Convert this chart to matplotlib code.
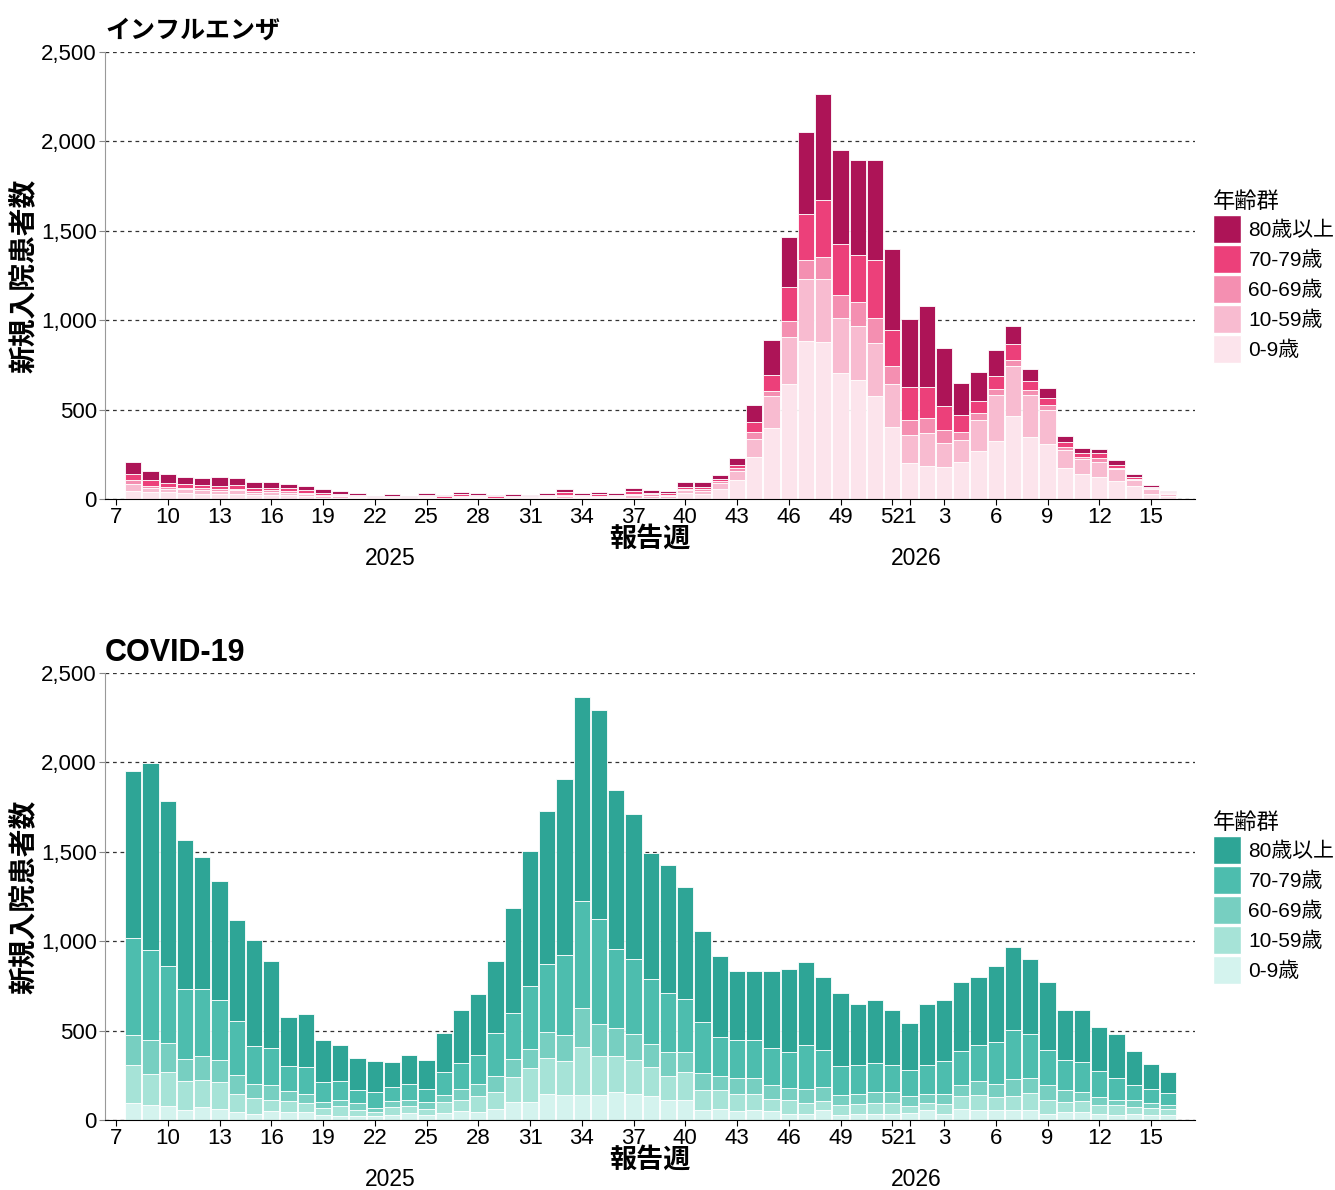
import numpy as np
import matplotlib.pyplot as plt
from matplotlib.patches import Patch
from matplotlib.ticker import FuncFormatter
import matplotlib.transforms as mtransforms

plt.rcParams['font.family'] = ['Liberation Sans', 'Noto Sans CJK JP', 'DejaVu Sans']

# report weeks: 2025-W8 .. 2025-W52, 2026-W1 .. 2026-W16
weeks_2025 = list(range(8, 53))
weeks_2026 = list(range(1, 17))
tick_weeks = [(2025, w) for w in range(7, 53, 3)] + [(2026, 1), (2026, 3), (2026, 6),
                                                     (2026, 9), (2026, 12), (2026, 15)]
age_groups = ['0-9歳', '10-59歳', '60-69歳', '70-79歳', '80歳以上']

# インフルエンザ (per age group, same week order)
flu_0_9 = [47, 38, 38, 34, 30, 26, 28, 24, 22, 20, 14, 8, 6, 4, 2, 3, 1, 3, 2, 4, 3, 2, 3, 2, 4,
           6, 4, 4, 4, 8, 6, 6, 35, 28, 56, 106, 237, 396, 644, 884, 877, 707, 666, 578, 403,
           200, 185, 181, 207, 267, 323, 465, 345, 308, 175, 142, 121, 99, 73, 30, 17]
flu_10_59 = [35, 22, 18, 20, 22, 18, 20, 12, 16, 14, 12, 8, 8, 6, 3, 4, 2, 6, 3, 7, 6, 3, 4, 4, 6,
             10, 6, 7, 6, 14, 12, 10, 15, 18, 35, 53, 101, 181, 263, 346, 355, 303, 304, 292, 239,
             155, 183, 131, 125, 175, 259, 281, 237, 188, 101, 82, 88, 69, 31, 24, 11]
flu_60_69 = [22, 14, 12, 10, 10, 10, 10, 8, 10, 10, 8, 6, 6, 4, 3, 3, 2, 5, 3, 6, 5, 3, 4, 3, 5,
             8, 4, 5, 5, 8, 7, 6, 7, 8, 8, 16, 37, 29, 91, 108, 119, 132, 133, 140, 99,
             89, 87, 71, 43, 38, 34, 32, 26, 30, 17, 13, 19, 7, 6, 6, 4]
flu_70_79 = [35, 30, 24, 20, 17, 20, 18, 17, 15, 16, 14, 12, 10, 8, 5, 6, 4, 8, 6, 10, 8, 6, 7, 6, 9,
             14, 8, 9, 8, 14, 11, 10, 8, 12, 11, 15, 54, 90, 185, 256, 323, 284, 263, 324, 203,
             183, 174, 136, 97, 70, 69, 88, 53, 39, 24, 21, 28, 13, 13, 9, 5]
flu_80 = [70, 53, 46, 41, 40, 51, 40, 32, 30, 26, 23, 20, 17, 12, 6, 10, 6, 10, 7, 12, 10, 7, 8, 7, 11,
          16, 10, 12, 9, 18, 14, 13, 28, 27, 26, 41, 97, 192, 282, 460, 589, 524, 532, 562, 456,
          381, 451, 324, 174, 159, 147, 104, 65, 56, 34, 26, 26, 28, 19, 11, 8]

# COVID-19
cov_0_9 = [93, 86, 77, 58, 71, 63, 43, 35, 49, 43, 47, 28, 24, 21, 21, 30, 37, 26, 37, 49, 47, 63,
           103, 99, 146, 138, 142, 142, 157, 146, 132, 114, 114, 56, 62, 52, 58, 49, 35, 35, 54,
           30, 35, 35, 35, 39, 54, 35, 62, 58, 54, 56, 56, 34, 43, 43, 34, 30, 34, 30, 30]
cov_10_59 = [213, 173, 192, 162, 155, 148, 104, 90, 65, 63, 48, 41, 53, 37, 26, 43, 40, 37, 62, 61,
             85, 96, 138, 190, 199, 194, 269, 214, 199, 188, 163, 134, 157, 114, 104, 95, 89, 70,
             75, 62, 54, 56, 56, 60, 58, 41, 41, 55, 74, 84, 75, 76, 93, 76, 56, 65, 48, 52, 37, 35, 33]
cov_60_69 = [168, 191, 162, 121, 132, 127, 107, 78, 84, 56, 52, 32, 35, 39, 22, 31, 37, 36, 39, 64,
             68, 85, 102, 107, 148, 144, 214, 180, 161, 146, 129, 133, 108, 91, 78, 86, 86, 75,
             71, 75, 75, 54, 56, 60, 62, 54, 52, 56, 62, 76, 74, 99, 88, 88, 71, 51, 45, 30, 43, 30, 23]
cov_70_79 = [543, 503, 433, 390, 375, 336, 298, 209, 203, 142, 152, 112, 104, 71, 90, 81, 88, 76,
             133, 145, 164, 245, 256, 352, 378, 446, 599, 587, 437, 423, 365, 330, 300, 288, 221,
             217, 217, 211, 200, 246, 207, 164, 163, 166, 150, 146, 163, 186, 190, 200, 236, 271,
             244, 194, 168, 166, 149, 121, 84, 77, 67]
cov_80 = [937, 1042, 918, 838, 737, 662, 568, 596, 489, 273, 293, 235, 204, 181, 171, 138, 160, 161,
          216, 297, 343, 399, 588, 754, 859, 985, 1142, 1172, 893, 806, 706, 718, 622, 509, 451,
          384, 382, 427, 461, 466, 410, 405, 339, 353, 309, 263, 339, 338, 386, 384, 421, 465,
          420, 379, 278, 291, 245, 248, 188, 141, 116]

flu_colors = ['#fce4ec', '#f8bbd0', '#f48fb1', '#ec407a', '#ad1457']
cov_colors = ['#d4f3ee', '#a6e3d7', '#77cfc1', '#4dbdae', '#2ea596']

# x positions: index 0 = 2025-W7
all_weeks = [(2025, w) for w in range(7, 53)] + [(2026, w) for w in weeks_2026]
pos = {yw: i for i, yw in enumerate(all_weeks)}
x = np.array([pos[(2025, w)] for w in weeks_2025] + [pos[(2026, w)] for w in weeks_2026])


def draw_panel(ax, series, colors, title, title_size, title_pad):
    bottom = np.zeros(len(x))
    for vals, col in zip(series, colors):
        vals = np.array(vals, dtype=float)
        ax.bar(x, vals, bottom=bottom, width=0.94, color=col,
               edgecolor='white', linewidth=0.6)
        bottom += vals

    ax.set_xlim(-0.64, 62.55)
    ax.set_ylim(0, 2500)
    ax.set_yticks(range(0, 2501, 500))
    ax.yaxis.set_major_formatter(FuncFormatter(lambda v, p: f'{int(v):,}'))
    ax.set_xticks([pos[t] for t in tick_weeks])
    ax.set_xticklabels([str(t[1]) for t in tick_weeks])
    ax.tick_params(axis='both', labelsize=16, length=4, width=0.8, pad=2)
    ax.tick_params(axis='y', colors='#888888', labelcolor='black')

    ax.grid(axis='y', linestyle=(0, (3, 3)), color='#333333', linewidth=0.9)
    ax.set_axisbelow(True)
    for s in ['top', 'right']:
        ax.spines[s].set_visible(False)
    ax.spines['left'].set_color('#999999')
    ax.spines['bottom'].set_color('black')

    ax.set_title(title, loc='left', fontsize=title_size, fontweight='bold', pad=title_pad)
    ax.set_ylabel('新規入院患者数', fontsize=20, fontweight='bold')
    ax.yaxis.set_label_coords(-0.0605, 0.5)
    ax.set_xlabel('報告週', fontsize=19.5, fontweight='bold')
    ax.xaxis.set_label_coords(0.5, -0.062)

    trans = mtransforms.blended_transform_factory(ax.transData, ax.transAxes)
    ax.text(15.9, -0.134, '2025', transform=trans, ha='center', va='center', fontsize=16.5)
    ax.text(46.4, -0.134, '2026', transform=trans, ha='center', va='center', fontsize=16.5)

    # legend: square keys, oldest group on top
    handles = [Patch(facecolor=c, edgecolor='white', linewidth=1, label=l)
               for c, l in zip(colors, age_groups)][::-1]
    leg = ax.legend(handles=handles, title='年齢群', loc='upper left',
                    bbox_to_anchor=(1.0165, 0.687), frameon=False, fontsize=15,
                    title_fontsize=16, handlelength=1.35, handleheight=1.69,
                    handletextpad=0.35, labelspacing=0.1, borderpad=0, borderaxespad=0)
    leg._legend_box.align = 'left'


fig = plt.figure(figsize=(13.35, 11.9), dpi=100)
ax1 = fig.add_axes([0.0787, 0.5807, 0.8165, 0.3756])
ax2 = fig.add_axes([0.0787, 0.0588, 0.8165, 0.3756])

draw_panel(ax1, [flu_0_9, flu_10_59, flu_60_69, flu_70_79, flu_80], flu_colors,
           'インフルエンザ', 18, 10)
draw_panel(ax2, [cov_0_9, cov_10_59, cov_60_69, cov_70_79, cov_80], cov_colors,
           'COVID-19', 22, 9)

fig.savefig('out.png', dpi=100)
